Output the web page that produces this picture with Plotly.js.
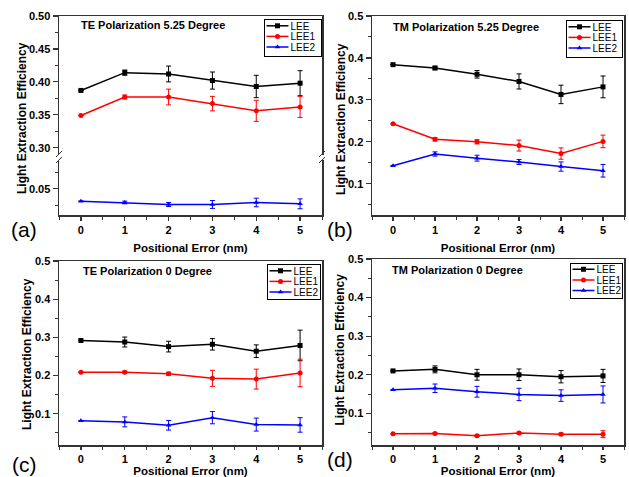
<!DOCTYPE html>
<html><head><meta charset="utf-8">
<script src="https://cdn.plot.ly/plotly-3.0.1.min.js"></script>
<style>html,body{margin:0;padding:0;background:#fff}#plot{width:629px;height:477px}</style>
</head><body><div id="plot"></div>
<script>
const xs = [0, 1, 2, 3, 4, 5];
const seriesNames = ['LEE', 'LEE1', 'LEE2'];
// (a) TE Polarization 5.25 Degree
const a_LEE = [0.387, 0.414, 0.412, 0.402, 0.393, 0.398];
const a_LEE_err = [0, 0.004, 0.012, 0.013, 0.017, 0.019];
const a_LEE1 = [0.349, 0.377, 0.377, 0.367, 0.356, 0.362];
const a_LEE1_err = [0, 0.003, 0.012, 0.011, 0.016, 0.016];
const a_LEE2 = [0.031, 0.029, 0.026, 0.026, 0.029, 0.027];
const a_LEE2_err = [0, 0.002, 0.003, 0.006, 0.0065, 0.0075];
// (b) TM Polarization 5.25 Degree
const b_LEE = [0.384, 0.376, 0.361, 0.344, 0.313, 0.331];
const b_LEE_err = [0, 0.004, 0.009, 0.018, 0.022, 0.026];
const b_LEE1 = [0.243, 0.206, 0.200, 0.191, 0.172, 0.201];
const b_LEE1_err = [0, 0.004, 0.005, 0.013, 0.0135, 0.015];
const b_LEE2 = [0.143, 0.171, 0.161, 0.152, 0.141, 0.131];
const b_LEE2_err = [0, 0.005, 0.007, 0.006, 0.011, 0.015];
// (c) TE Polarization 0 Degree
const c_LEE = [0.292, 0.288, 0.276, 0.282, 0.264, 0.279];
const c_LEE_err = [0, 0.013, 0.014, 0.015, 0.0165, 0.04];
const c_LEE1 = [0.209, 0.209, 0.205, 0.193, 0.191, 0.207];
const c_LEE1_err = [0, 0.003, 0.004, 0.021, 0.026, 0.036];
const c_LEE2 = [0.082, 0.079, 0.070, 0.090, 0.072, 0.071];
const c_LEE2_err = [0, 0.013, 0.0125, 0.016, 0.017, 0.019];
// (d) TM Polarization 0 Degree
const d_LEE = [0.210, 0.214, 0.200, 0.200, 0.195, 0.197];
const d_LEE_err = [0, 0.009, 0.014, 0.015, 0.016, 0.017];
const d_LEE1 = [0.047, 0.048, 0.042, 0.049, 0.046, 0.046];
const d_LEE1_err = [0, 0.002, 0.002, 0.002, 0.003, 0.009];
const d_LEE2 = [0.161, 0.165, 0.156, 0.149, 0.146, 0.149];
const d_LEE2_err = [0, 0.011, 0.014, 0.016, 0.015, 0.022];

const panelTitles = ['TE Polarization 5.25 Degree', 'TM Polarization 5.25 Degree', 'TE Polarization 0 Degree', 'TM Polarization 0 Degree'];
const panelLabels = ['(a)', '(b)', '(c)', '(d)'];
const xTitle = 'Positional Error (nm)';
const yTitle = 'Light Extraction Efficiency';

const colors = ['#000000', '#ff0000', '#0000ff'];
const symbols = ['square', 'circle', 'triangle-up'];
const FONT = '"Liberation Sans", Arial, sans-serif';

function tr(y, err, k, xa, ya, leg) {
  return {
    x: xs, y: y, name: seriesNames[k], type: 'scatter', mode: 'lines+markers',
    xaxis: xa, yaxis: ya, legend: leg,
    line: {color: colors[k], width: 1.5},
    marker: {symbol: symbols[k], size: 5, color: colors[k]},
    error_y: {type: 'data', array: err, visible: true, color: colors[k], thickness: 1, width: 2.5}
  };
}

const data = [
  tr(a_LEE, a_LEE_err, 0, 'x2', 'y2', 'legend'),
  tr(a_LEE1, a_LEE1_err, 1, 'x2', 'y2', 'legend'),
  tr(a_LEE2, a_LEE2_err, 2, 'x', 'y', 'legend'),
  tr(b_LEE, b_LEE_err, 0, 'x3', 'y3', 'legend2'),
  tr(b_LEE1, b_LEE1_err, 1, 'x3', 'y3', 'legend2'),
  tr(b_LEE2, b_LEE2_err, 2, 'x3', 'y3', 'legend2'),
  tr(c_LEE, c_LEE_err, 0, 'x4', 'y4', 'legend3'),
  tr(c_LEE1, c_LEE1_err, 1, 'x4', 'y4', 'legend3'),
  tr(c_LEE2, c_LEE2_err, 2, 'x4', 'y4', 'legend3'),
  tr(d_LEE, d_LEE_err, 0, 'x5', 'y5', 'legend4'),
  tr(d_LEE1, d_LEE1_err, 1, 'x5', 'y5', 'legend4'),
  tr(d_LEE2, d_LEE2_err, 2, 'x5', 'y5', 'legend4')
];

const W = 629, H = 477;
const px = v => v / W;
const py = v => 1 - v / H;
const LC = '#333';
const tickFont = {family: FONT, size: 11, color: '#000', weight: 'bold'};
const titleFont = {family: FONT, size: 12, color: '#000', weight: 'bold'};
const xTitleFont = {family: FONT, size: 11.5, color: '#000', weight: 'bold'};

function xax(l, r, anchor, showTitle, standoff, tlen) {
  return {
    domain: [px(l), px(r)], anchor: anchor, range: [-0.5, 5.5],
    showgrid: false, zeroline: false, showline: true, linecolor: LC, linewidth: 1.5, mirror: true,
    ticks: 'outside', ticklen: tlen, tickwidth: 1.2, tickcolor: LC, dtick: 1, tick0: 0,
    minor: {dtick: 0.5, tick0: 0, ticks: 'outside', ticklen: 3, tickcolor: LC, tickwidth: 1},
    tickfont: tickFont,
    title: showTitle ? {text: xTitle, font: xTitleFont, standoff: standoff} : {text: ''}
  };
}
function yax(t, b, anchor, range, dtick, minor, fmt) {
  return {
    domain: [py(b), py(t)], anchor: anchor, range: range,
    showgrid: false, zeroline: false, showline: true, linecolor: LC, linewidth: 1.5, mirror: true,
    ticks: 'outside', ticklen: 5, tickwidth: 1.2, tickcolor: LC, dtick: dtick, tick0: 0,
    minor: {dtick: minor, tick0: 0, ticks: 'outside', ticklen: 3, tickcolor: LC, tickwidth: 1},
    tickfont: tickFont, tickformat: fmt,
    title: {text: ''}
  };
}

const xa = xax(59, 322, 'y', true, 9, 4); xa.mirror = false;
const xa2 = xax(59, 322, 'y2', false, 0, 4);
xa2.side = 'top'; xa2.mirror = false; xa2.ticks = ''; xa2.showticklabels = false; xa2.minor = {ticks: ''};
const ya = yax(160, 215, 'x', [0.010, 0.0935], 0.05, 0.025, '.2f');
ya.tickvals = [0.05];
const ya2 = yax(16, 155, 'x2', [0.289, 0.5], 0.05, 0.025, '.2f');

function legendAt(r, t) {
  return {x: px(r), y: py(t), xanchor: 'right', yanchor: 'top', bgcolor: '#fff',
    bordercolor: '#000', borderwidth: 1, font: {family: FONT, size: 10, color: '#000'},
    tracegroupgap: 0, itemwidth: 30};
}

const ann = [];
const titlePos = [[79, 25], [391, 27], [81, 271], [390, 270]];
panelTitles.forEach((t, i) => ann.push({text: t, xref: 'paper', yref: 'paper', x: px(titlePos[i][0]), y: py(titlePos[i][1]),
  xanchor: 'left', yanchor: 'middle', showarrow: false, font: {family: FONT, size: 11, color: '#000', weight: 'bold'}}));
const labelPos = [[24, 230], [340, 230], [24, 464], [340, 459]];
panelLabels.forEach((t, i) => ann.push({text: t, xref: 'paper', yref: 'paper', x: px(labelPos[i][0]), y: py(labelPos[i][1]),
  xanchor: 'center', yanchor: 'middle', showarrow: false, font: {family: FONT, size: 21, color: '#000'}}));
// y-axis titles
const yTitlePos = [[22, 118], [341.5, 119.5], [26.5, 354.5], [339.5, 350]];
yTitlePos.forEach(p => ann.push({text: yTitle, xref: 'paper', yref: 'paper', x: px(p[0]), y: py(p[1]), textangle: -90,
  xanchor: 'center', yanchor: 'middle', showarrow: false, font: titleFont}));

const shapes = [];
[59, 322].forEach(xp => {
  shapes.push({type: 'line', xref: 'paper', yref: 'paper', x0: px(xp - 3), y0: py(157), x1: px(xp + 3), y1: py(151), line: {color: LC, width: 1}});
  shapes.push({type: 'line', xref: 'paper', yref: 'paper', x0: px(xp - 3), y0: py(163), x1: px(xp + 3), y1: py(157), line: {color: LC, width: 1}});
});

const layout = {
  width: W, height: H, margin: {l: 0, r: 0, t: 0, b: 0},
  paper_bgcolor: '#fff', plot_bgcolor: '#fff',
  font: {family: FONT, color: '#000'},
  showlegend: true,
  xaxis: xa, yaxis: ya, xaxis2: xa2, yaxis2: ya2,
  xaxis3: xax(372, 624, 'y3', true, 9, 4),
  yaxis3: yax(16, 215, 'x3', [0.0255, 0.5], 0.1, 0.05, '.1f'),
  xaxis4: xax(59, 322, 'y4', true, 13, 3),
  yaxis4: yax(261, 445, 'x4', [0.0185, 0.5], 0.1, 0.05, '.1f'),
  xaxis5: xax(372, 624, 'y5', true, 13, 3),
  yaxis5: yax(259, 445, 'x5', [0.018, 0.5], 0.1, 0.05, '.1f'),
  legend: legendAt(320, 19), legend2: legendAt(622, 20), legend3: legendAt(320, 264), legend4: legendAt(622, 263),
  annotations: ann, shapes: shapes
};

// compact legend boxes like the original (left, top, width, height)
const legendBoxes = {legend: [264, 19, 57, 37], legend2: [566, 20, 56, 37], legend3: [267, 264, 53, 35], legend4: [570, 262.5, 52, 35]};

function compactLegends(gd) {
  Object.keys(legendBoxes).forEach(id => {
    const b = legendBoxes[id];
    gd.querySelectorAll('.infolayer > g').forEach(lg => {
      if (lg.getAttribute('class') !== id) return;
      lg.setAttribute('transform', 'translate(' + b[0] + ',' + b[1] + ')');
      lg.querySelectorAll('rect.bg').forEach(bg => {
        bg.setAttribute('x', 0.5); bg.setAttribute('y', 0.5);
        bg.setAttribute('width', b[2]); bg.setAttribute('height', b[3]);
      });
      const sb = lg.querySelector('g.scrollbox');
      if (sb) sb.setAttribute('transform', 'translate(0,0)');
      lg.querySelectorAll('g.traces').forEach((t, i) => {
        t.setAttribute('transform', 'translate(0,' + (6.8 + i * 10.6) + ')');
        t.querySelectorAll('g.legendlines path').forEach(p => p.setAttribute('d', 'M2.5,0h22'));
        t.querySelectorAll('g.legendpoints path').forEach(p => p.setAttribute('transform', 'translate(13.5,0)'));
        t.querySelectorAll('text').forEach(tx => {
          tx.setAttribute('x', 26.5);
          tx.querySelectorAll('tspan').forEach(ts => { if (ts.hasAttribute('x')) ts.setAttribute('x', 26.5); });
        });
      });
    });
  });
}

const gdEl = document.getElementById('plot');
Plotly.newPlot(gdEl, data, layout, {staticPlot: true, displayModeBar: false}).then(gd => {
  try { compactLegends(gd); } catch (e) { console.log(e); }
  [0, 50, 200].forEach(t => setTimeout(() => { try { compactLegends(gd); } catch (e) {} }, t));
});
</script></body></html>
